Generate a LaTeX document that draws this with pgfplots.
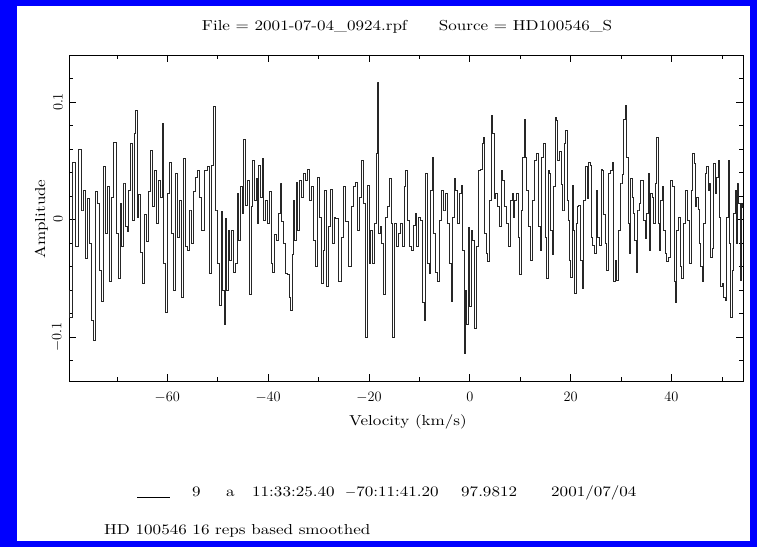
\documentclass[border=0pt]{standalone}
\usepackage{fontspec}
\setmainfont{lmroman10-regular.otf}[FakeStretch=1.18]
\usepackage{pgfplots}
\pgfplotsset{compat=1.18}
\usepackage{pgfplotstable}

% spectrum: velocity (km/s), amplitude
\pgfplotstableread{
v amp
-79.50 -0.060
-79.19 -0.083
-78.53 0.049
-77.87 -0.023
-77.27 0.060
-76.74 0.008
-76.55 0.025
-76.02 -0.033
-75.62 0.018
-75.22 -0.020
-74.83 -0.086
-74.56 -0.103
-74.16 0.024
-73.77 0.014
-73.30 -0.043
-72.91 -0.070
-72.44 0.045
-72.05 -0.012
-71.65 0.028
-71.32 -0.053
-70.79 0.019
-70.46 0.066
-69.93 -0.012
-69.47 -0.050
-69.14 0.014
-68.94 -0.023
-68.61 0.031
-68.21 -0.006
-67.82 -0.010
-67.48 0.025
-67.15 0.065
-66.76 -0.001
-66.49 0.073
-66.16 0.093
-65.83 0.002
-65.50 0.021
-65.17 -0.028
-64.77 -0.054
-64.38 0.004
-63.98 -0.019
-63.58 0.024
-63.19 0.059
-62.79 0.011
-62.39 0.042
-62.00 -0.003
-61.60 0.033
-61.20 0.019
-60.87 0.082
-60.54 -0.037
-60.28 -0.079
-59.88 0.022
-59.35 0.049
-58.95 -0.012
-58.56 -0.060
-58.16 0.039
-57.76 -0.015
-57.37 0.016
-56.97 -0.066
-56.57 0.052
-56.18 -0.023
-55.78 -0.026
-55.38 0.008
-54.98 -0.020
-54.59 0.024
-54.19 0.036
-53.79 0.042
-53.40 0.019
-53.00 -0.009
-52.34 0.042
-51.94 0.045
-51.48 -0.046
-51.01 0.046
-50.68 0.096
-50.35 0.008
-49.96 -0.037
-49.49 -0.073
-49.16 0.007
-48.90 -0.060
-48.63 -0.089
-48.37 0.001
-48.10 -0.060
-47.84 -0.009
-47.57 -0.035
-47.18 -0.009
-46.71 -0.045
-46.32 -0.037
-45.99 0.022
-45.72 -0.018
-45.33 0.028
-45.06 0.005
-44.66 0.068
-44.27 0.012
-44.00 0.033
-43.54 -0.064
-43.21 0.011
-42.88 0.050
-42.55 0.016
-42.28 0.035
-42.02 -0.003
-41.69 0.046
-41.36 0.019
-41.09 0.052
-40.70 -0.001
-40.37 0.016
-40.03 -0.003
-39.64 0.024
-39.24 -0.037
-38.91 -0.045
-38.58 -0.013
-38.18 -0.018
-37.85 0.005
-37.46 0.031
-37.12 -0.002
-36.73 -0.020
-36.33 -0.046
-35.93 -0.047
-35.67 -0.066
-35.41 -0.077
-35.14 -0.030
-34.88 0.016
-34.61 -0.018
-34.28 0.032
-33.95 -0.009
-33.55 0.033
-33.16 0.019
-32.76 0.039
-32.36 0.033
-31.97 0.043
-31.57 0.016
-31.17 0.028
-30.78 -0.018
-30.51 -0.040
-30.11 0.036
-29.72 0.002
-29.32 -0.054
-28.92 -0.026
-28.66 0.025
-28.26 -0.057
-27.87 -0.006
-27.47 0.026
-27.07 -0.020
-26.67 0.002
-26.55 0.001
-25.76 -0.053
-25.36 -0.015
-24.90 0.028
-24.43 -0.002
-23.77 -0.040
-23.38 0.011
-22.91 0.028
-22.58 0.032
-22.18 -0.009
-21.79 0.019
-21.26 0.050
-20.86 0.014
-20.47 -0.100
-20.07 0.029
-19.80 -0.037
-19.54 -0.009
-19.14 -0.037
-18.75 -0.003
-18.48 0.056
-18.28 0.117
-17.95 -0.012
-17.62 -0.006
-17.29 -0.020
-16.96 -0.064
-16.63 0.002
-16.17 0.011
-15.77 0.035
-15.44 -0.003
-15.11 -0.100
-14.78 -0.003
-14.38 -0.023
-13.98 -0.012
-13.59 -0.003
-13.19 -0.023
-12.86 0.028
-12.53 0.042
-12.13 -0.001
-11.74 -0.023
-11.34 -0.026
-10.94 -0.005
-10.68 0.005
-10.35 -0.023
-10.02 0.002
-9.62 -0.001
-9.22 -0.071
-8.89 -0.086
-8.56 0.039
-8.16 -0.037
-7.90 -0.046
-7.63 0.025
-7.37 0.053
-6.97 -0.012
-6.58 -0.045
-6.18 -0.053
-5.78 -0.001
-5.39 0.025
-4.99 0.008
-4.59 0.022
-4.20 -0.003
-3.80 -0.037
-3.53 -0.070
-3.27 0.002
-3.01 0.035
-2.61 0.025
-2.21 -0.003
-1.81 0.022
-1.55 0.029
-1.29 -0.026
-1.02 -0.114
-0.76 -0.060
-0.43 -0.089
-0.09 -0.007
0.04 -0.074
0.37 -0.009
0.70 -0.018
1.10 -0.093
1.50 -0.023
1.89 0.042
2.29 0.043
2.55 0.065
2.82 0.070
3.08 -0.012
3.35 -0.029
3.68 -0.036
4.01 0.016
4.41 0.089
4.67 0.073
4.93 0.018
5.33 0.022
5.73 0.011
5.99 -0.006
6.39 0.042
6.65 0.033
7.05 0.011
7.45 -0.003
7.84 -0.023
8.24 0.016
8.51 0.022
8.77 0.002
9.03 0.016
9.37 0.022
9.70 -0.015
9.96 -0.047
10.36 0.008
10.62 0.053
10.82 0.085
11.15 0.053
11.42 0.025
11.81 -0.006
12.21 -0.035
12.61 0.016
13.00 0.050
13.40 0.056
13.80 -0.006
14.06 -0.026
14.46 0.053
14.72 0.065
15.05 -0.015
15.38 -0.050
15.65 0.042
15.91 0.039
16.18 -0.009
16.44 -0.030
16.71 0.028
17.04 0.087
17.30 0.084
17.57 0.050
17.90 0.058
18.23 0.030
18.56 0.008
18.89 0.065
19.15 0.076
19.42 0.016
19.68 -0.001
19.88 -0.035
20.15 -0.049
20.41 0.029
20.67 -0.009
20.94 -0.063
21.20 -0.003
21.47 0.011
21.73 0.012
22.13 -0.035
22.39 -0.059
22.79 0.016
23.06 0.045
23.39 0.018
23.72 0.049
23.98 0.046
24.25 -0.015
24.51 -0.022
24.84 -0.029
25.17 0.025
25.50 -0.015
25.83 -0.022
26.16 0.043
26.50 0.042
26.63 0.004
26.96 -0.020
27.29 -0.043
27.69 0.039
28.09 0.042
28.35 0.049
28.61 -0.053
28.94 -0.035
29.28 -0.052
29.67 -0.009
30.07 0.031
30.33 0.038
30.73 0.085
31.00 0.097
31.26 0.053
31.59 -0.003
31.79 -0.029
32.05 0.035
32.32 0.019
32.58 0.005
32.85 -0.018
33.11 -0.045
33.44 0.008
33.77 0.014
34.04 0.033
34.30 0.033
34.57 -0.001
34.90 -0.016
35.23 0.005
35.49 0.039
35.76 -0.026
36.02 0.022
36.29 0.019
36.55 -0.003
36.95 0.031
37.21 0.070
37.48 -0.003
37.74 -0.026
38.01 0.016
38.27 0.028
38.53 -0.009
38.93 -0.029
39.20 -0.036
39.59 -0.032
39.99 0.033
40.39 0.028
40.65 -0.053
40.85 -0.071
41.18 -0.009
41.51 0.002
41.84 -0.040
42.24 -0.050
42.64 -0.003
43.03 0.025
43.43 -0.001
43.69 -0.037
44.09 0.025
44.35 0.056
44.62 0.048
44.88 0.011
45.15 0.019
45.41 0.009
45.68 -0.020
45.94 -0.040
46.21 -0.053
46.47 -0.003
46.87 0.039
47.13 0.045
47.40 0.025
47.66 0.031
47.93 -0.032
48.26 -0.025
48.52 0.048
48.85 0.022
49.12 0.036
49.38 0.050
49.65 0.002
49.91 -0.057
50.17 -0.054
50.44 -0.066
50.84 -0.069
51.10 0.002
51.37 0.050
51.63 -0.020
51.89 -0.083
52.16 -0.043
52.42 0.005
52.75 0.025
52.95 -0.020
53.22 0.031
53.48 0.014
53.75 -0.052
54.01 0.014
54.20 0.010
}\spectrum

\begin{document}
\begin{tikzpicture}[x=1bp,y=1bp,font=\fontsize{14.5}{17}\selectfont]
\fill[blue] (0,0) rectangle (757,547);
\fill[white] (17,6) rectangle (750,541);
\begin{axis}[
  at={(69bp,166bp)}, anchor=south west,
  width=674bp, height=326bp, scale only axis,
  xmin=-79.5, xmax=54.2, ymin=-0.1376, ymax=0.14,
  axis line style={line width=0.8pt},
  tick align=inside, xtick pos=both, ytick pos=both,
  xticklabel pos=lower, yticklabel pos=left,
  tick style={black, line width=0.6pt},
  major tick length=7bp, minor tick length=4bp,
  xtick={-60,-40,-20,0,20,40},
  minor xtick={-70,-50,-30,-10,10,30,50},
  ytick={-0.1,0,0.1}, yticklabels={$-0.1$,$0$,$0.1$},
  minor ytick={-0.12,-0.08,-0.06,-0.04,-0.02,0.02,0.04,0.06,0.08,0.12},
  scaled y ticks=false,
  tick label style={font=\fontsize{14.5}{17}\selectfont},
  xticklabel style={yshift=-8bp},
  yticklabel style={rotate=90, anchor=south, outer sep=3bp},
  clip=true]
\addplot[const plot mark mid, black!85, line width=0.6pt] table[x=v, y=amp] {\spectrum};
\end{axis}
\node[anchor=base] at (407,516) {File = 2001-07-04\_0924.rpf\hspace{2.2em}Source = HD100546\_S};
\node[anchor=base] at (408,121) {Velocity (km/s)};
\node[rotate=90, anchor=base] at (45,328) {Amplitude};
\draw[line width=0.6pt] (137,50) -- (170,50);
\node[anchor=base west, inner sep=0] at (192,50) {9};
\node[anchor=base west, inner sep=0] at (226,50) {a};
\node[anchor=base west, inner sep=0] at (252,50) {11:33:25.40};
\node[anchor=base west, inner sep=0] at (345,50) {$-$70:11:41.20};
\node[anchor=base west, inner sep=0] at (461,50) {97.9812};
\node[anchor=base west, inner sep=0] at (551,50) {2001/07/04};
\node[anchor=base west, inner sep=0] at (104,12) {HD 100546 16 reps based smoothed};
\end{tikzpicture}
\end{document}
